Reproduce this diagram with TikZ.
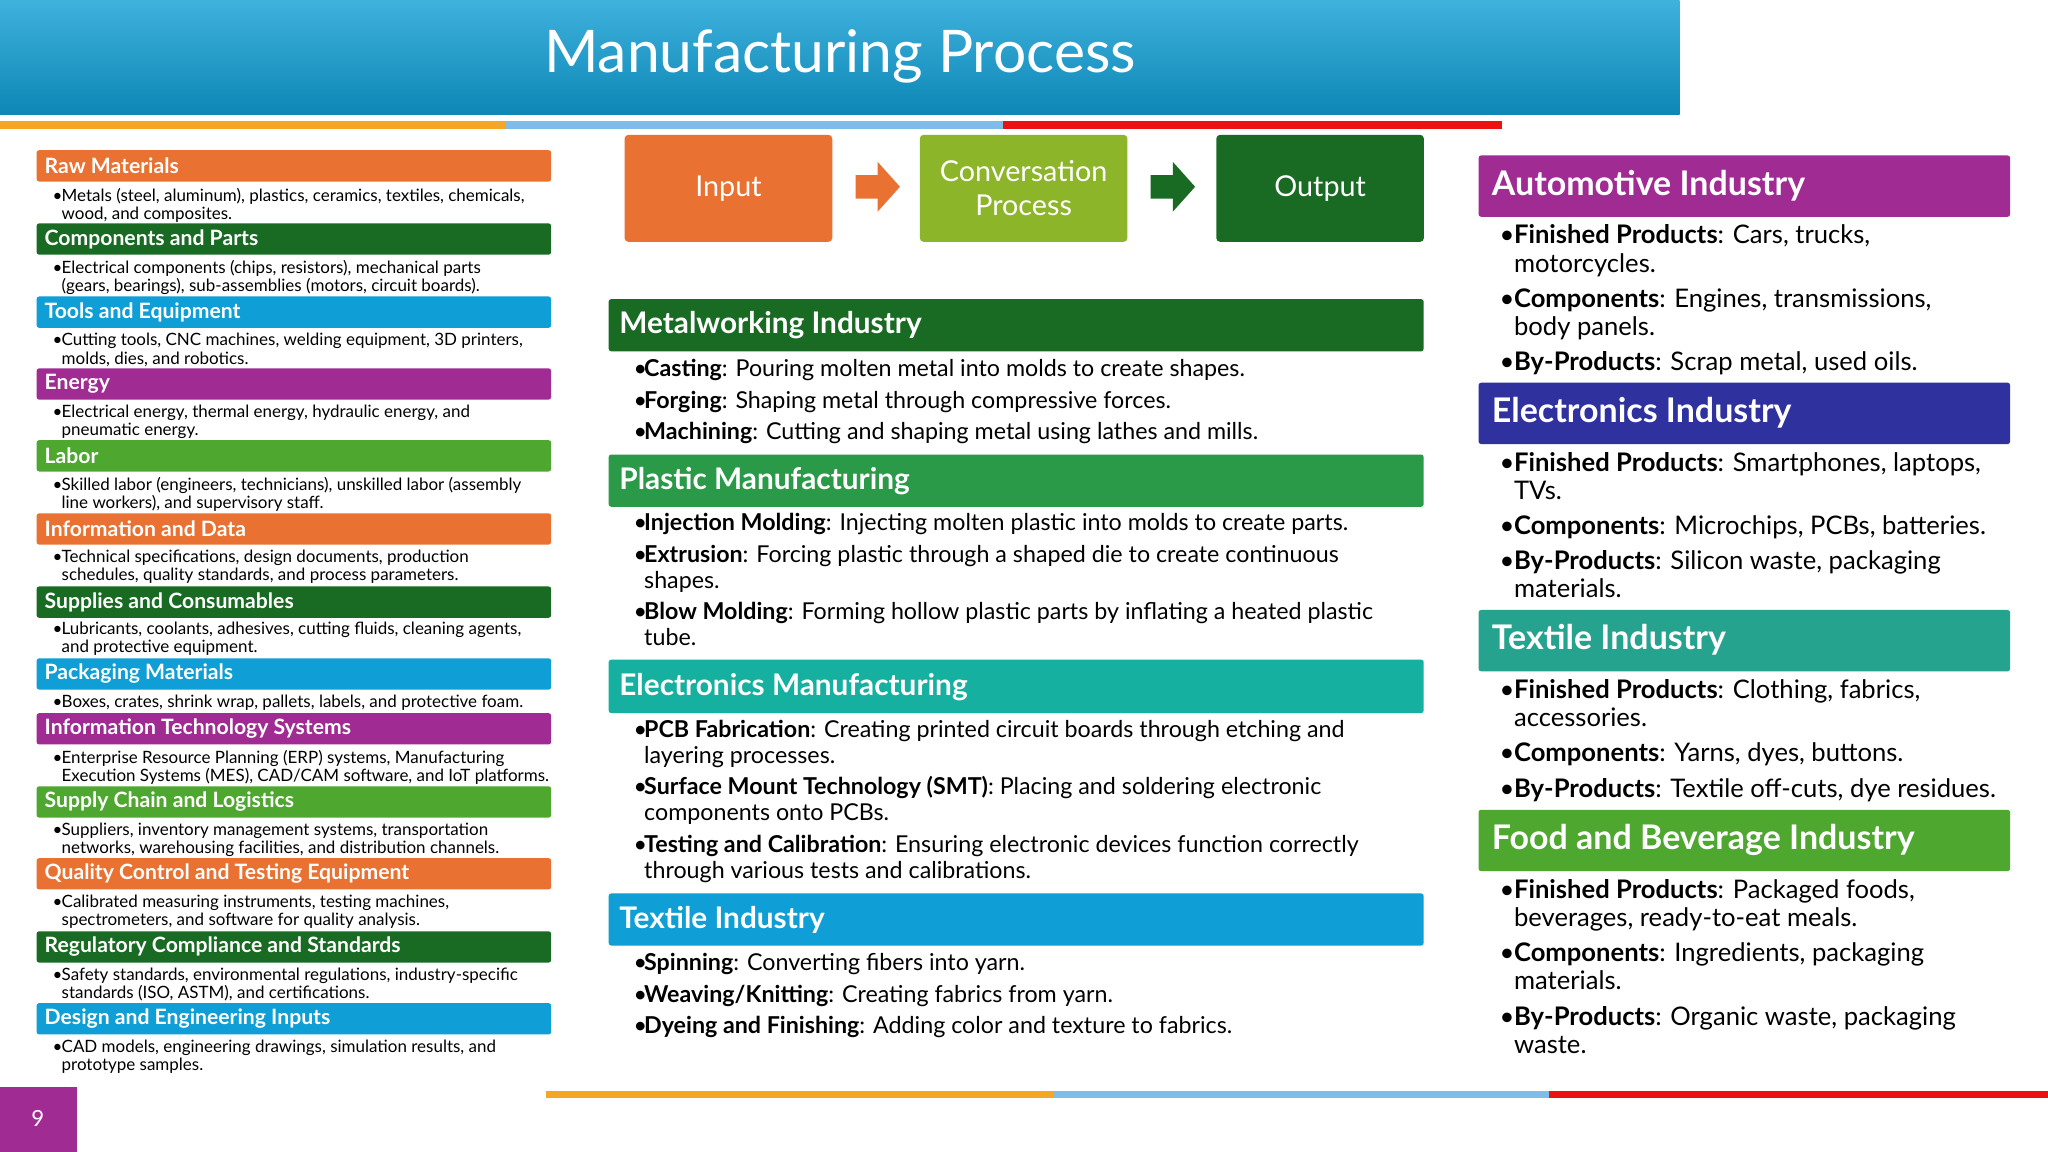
\documentclass[tikz,border=0pt]{standalone}
\usepackage{fontspec}
\setmainfont{Lato}
\definecolor{corange}{HTML}{E97132}
\definecolor{cdkgreen}{HTML}{196B24}
\definecolor{cblue}{HTML}{0F9ED5}
\definecolor{cpurple}{HTML}{A02B93}
\definecolor{cgreen}{HTML}{4EA72E}
\definecolor{cyg}{HTML}{8DB52A}
\definecolor{cmgreen}{HTML}{2A9A48}
\definecolor{cteal}{HTML}{16B0A0}
\definecolor{cnavy}{HTML}{2E319E}
\definecolor{cteal2}{HTML}{26A38F}
\definecolor{lineorange}{HTML}{F5A623}
\definecolor{lineblue}{HTML}{7DBDE8}
\definecolor{linered}{HTML}{EE1111}
\tikzset{
 lhead/.style={rounded corners=2pt,draw=none},
 lht/.style={anchor=west,text=white,font=\fontsize{16.2}{18}\bfseries\selectfont,inner sep=0},
 lbody/.style={anchor=north west,align=left,inner sep=0,font=\fontsize{13}{14}\selectfont},
 mhead/.style={rounded corners=2pt},
 mht/.style={anchor=west,text=white,font=\fontsize{22.8}{26}\bfseries\selectfont,inner sep=0},
 mbody/.style={anchor=north west,align=left,inner sep=0,font=\fontsize{17.8}{20}\selectfont},
 rht/.style={anchor=west,text=white,font=\fontsize{26}{30}\bfseries\selectfont,inner sep=0},
 rbody/.style={anchor=north west,align=left,inner sep=0,font=\fontsize{19.6}{21.5}\selectfont},
 pbox/.style={rounded corners=3pt,text=white,font=\fontsize{22}{26}\selectfont,align=center,minimum width=159pt,minimum height=82pt,inner sep=0,anchor=north west},
}
\newcommand{\lb}{\makebox[7pt][l]{•}}
\newcommand{\li}{\hspace*{7pt}}
\newcommand{\mb}{\makebox[8pt][l]{•}}
\newcommand{\mi}{\hspace*{8pt}}
\newcommand{\rb}{\makebox[11pt][l]{•}}
\newcommand{\ri}{\hspace*{11pt}}
\begin{document}
\begin{tikzpicture}[x=1pt,y=-1pt]
\useasboundingbox (0,0) rectangle (1568,882);
\fill[white] (0,0) rectangle (1568,882);
% title
\shade[top color=cblue!80!white, bottom color=cblue!85!black] (0,0) rectangle (1286,88);
\node[text=white,font=\fontsize{45}{50}\selectfont] (title) at (643,43) {Manufacturing Process};
\fill[lineorange] (0,93) rectangle (387,99);
\fill[lineblue] (387,93) rectangle (768,99);
\fill[linered] (768,93) rectangle (1150,99);
\fill[lineorange] (418,835) rectangle (806,841);
\fill[lineblue] (806,835) rectangle (1186,841);
\fill[linered] (1186,835) rectangle (1568,841);
\fill[cpurple] (0,832) rectangle (59,882);
\node[text=white,font=\fontsize{17}{20}\selectfont] (pg) at (29,856) {9};
% left column
\foreach \y/\c/\t in {115/corange/Raw Materials,171/cdkgreen/Components and Parts,227/cblue/Tools and Equipment,282/cpurple/Energy,337/cgreen/Labor,393/corange/Information and Data,449/cdkgreen/Supplies and Consumables,504/cblue/Packaging Materials,546/cpurple/Information Technology Systems,602/cgreen/Supply Chain and Logistics,657/corange/Quality Control and Testing Equipment,713/cdkgreen/Regulatory Compliance and Standards,768/cblue/Design and Engineering Inputs}{
 \fill[\c,lhead] (28,\y) rectangle (422,\y+24);
 \node[lht] at (34,\y+12) {\t};
}
\node[lbody] (b1) at (40,144) {\lb Metals (steel, aluminum), plastics, ceramics, textiles, chemicals,\\\li wood, and composites.};
\node[lbody] (b2) at (40,199) {\lb Electrical components (chips, resistors), mechanical parts\\\li (gears, bearings), sub-assemblies (motors, circuit boards).};
\node[lbody] (b3) at (40,255) {\lb Cutting tools, CNC machines, welding equipment, 3D printers,\\\li molds, dies, and robotics.};
\node[lbody] (b4) at (40,310) {\lb Electrical energy, thermal energy, hydraulic energy, and\\\li pneumatic energy.};
\node[lbody] (b5) at (40,365) {\lb Skilled labor (engineers, technicians), unskilled labor (assembly\\\li line workers), and supervisory staff.};
\node[lbody] (b6) at (40,421) {\lb Technical specifications, design documents, production\\\li schedules, quality standards, and process parameters.};
\node[lbody] (b7) at (40,476) {\lb Lubricants, coolants, adhesives, cutting fluids, cleaning agents,\\\li and protective equipment.};
\node[lbody] (b8) at (40,532) {\lb Boxes, crates, shrink wrap, pallets, labels, and protective foam.};
\node[lbody] (b9) at (40,574) {\lb Enterprise Resource Planning (ERP) systems, Manufacturing\\\li Execution Systems (MES), CAD/CAM software, and IoT platforms.};
\node[lbody] (b10) at (40,630) {\lb Suppliers, inventory management systems, transportation\\\li networks, warehousing facilities, and distribution channels.};
\node[lbody] (b11) at (40,685) {\lb Calibrated measuring instruments, testing machines,\\\li spectrometers, and software for quality analysis.};
\node[lbody] (b12) at (40,741) {\lb Safety standards, environmental regulations, industry-specific\\\li standards (ISO, ASTM), and certifications.};
\node[lbody] (b13) at (40,796) {\lb CAD models, engineering drawings, simulation results, and\\\li prototype samples.};
% process boxes
\node[pbox,fill=corange] (in) at (478,103) {Input};
\node[pbox,fill=cyg] (conv) at (704,103) {Conversation\\Process};
\node[pbox,fill=cdkgreen] (out) at (931,103) {Output};
\fill[corange] (655,134) -- (672,134) -- (672,124) -- (689,143) -- (672,162) -- (672,152) -- (655,152) -- cycle;
\fill[cdkgreen] (881,134) -- (898,134) -- (898,124) -- (915,143) -- (898,162) -- (898,152) -- (881,152) -- cycle;
% middle sections
\fill[cdkgreen,mhead] (466,229) rectangle (1090,269);
\node[mht] (h1) at (474,249) {Metalworking Industry};
\fill[cmgreen,mhead] (466,348) rectangle (1090,388);
\node[mht] (h2) at (474,368) {Plastic Manufacturing};
\fill[cteal,mhead] (466,505) rectangle (1090,546);
\node[mht] (h3) at (474,526) {Electronics Manufacturing};
\fill[cblue,mhead] (466,684) rectangle (1090,724);
\node[mht] (h4) at (474,704) {Textile Industry};
\node[mbody] (m1) at (485,275) {\mb\textbf{Casting}: Pouring molten metal into molds to create shapes.\\[4pt]
\mb\textbf{Forging}: Shaping metal through compressive forces.\\[4pt]
\mb\textbf{Machining}: Cutting and shaping metal using lathes and mills.};
\node[mbody] (m2) at (485,393) {\mb\textbf{Injection Molding}: Injecting molten plastic into molds to create parts.\\[4pt]
\mb\textbf{Extrusion}: Forcing plastic through a shaped die to create continuous\\\mi shapes.\\[4pt]
\mb\textbf{Blow Molding}: Forming hollow plastic parts by inflating a heated plastic\\\mi tube.};
\node[mbody] (m3) at (485,551) {\mb\textbf{PCB Fabrication}: Creating printed circuit boards through etching and\\\mi layering processes.\\[4pt]
\mb\textbf{Surface Mount Technology (SMT)}: Placing and soldering electronic\\\mi components onto PCBs.\\[4pt]
\mb\textbf{Testing and Calibration}: Ensuring electronic devices function correctly\\\mi through various tests and calibrations.};
\node[mbody] (m4) at (485,730) {\mb\textbf{Spinning}: Converting fibers into yarn.\\[4pt]
\mb\textbf{Weaving/Knitting}: Creating fabrics from yarn.\\[4pt]
\mb\textbf{Dyeing and Finishing}: Adding color and texture to fabrics.};
% right sections
\fill[cpurple,mhead] (1132,119) rectangle (1539,166);
\node[rht] (r1) at (1142,142) {Automotive Industry};
\fill[cnavy,mhead] (1132,293) rectangle (1539,340);
\node[rht] (r2) at (1142,316) {Electronics Industry};
\fill[cteal2,mhead] (1132,467) rectangle (1539,514);
\node[rht] (r3) at (1142,490) {Textile Industry};
\fill[cgreen,mhead] (1132,620) rectangle (1539,667);
\node[rht] (r4) at (1142,643) {Food and Beverage Industry};
\node[rbody] (s1) at (1148,172) {\rb\textbf{Finished Products}: Cars, trucks,\\\ri motorcycles.\\[5.5pt]
\rb\textbf{Components}: Engines, transmissions,\\\ri body panels.\\[5.5pt]
\rb\textbf{By-Products}: Scrap metal, used oils.};
\node[rbody] (s2) at (1148,346) {\rb\textbf{Finished Products}: Smartphones, laptops,\\\ri TVs.\\[5.5pt]
\rb\textbf{Components}: Microchips, PCBs, batteries.\\[5.5pt]
\rb\textbf{By-Products}: Silicon waste, packaging\\\ri materials.};
\node[rbody] (s3) at (1148,520) {\rb\textbf{Finished Products}: Clothing, fabrics,\\\ri accessories.\\[5.5pt]
\rb\textbf{Components}: Yarns, dyes, buttons.\\[5.5pt]
\rb\textbf{By-Products}: Textile off-cuts, dye residues.};
\node[rbody] (s4) at (1148,673) {\rb\textbf{Finished Products}: Packaged foods,\\\ri beverages, ready-to-eat meals.\\[5.5pt]
\rb\textbf{Components}: Ingredients, packaging\\\ri materials.\\[5.5pt]
\rb\textbf{By-Products}: Organic waste, packaging\\\ri waste.};
\end{tikzpicture}
\end{document}
